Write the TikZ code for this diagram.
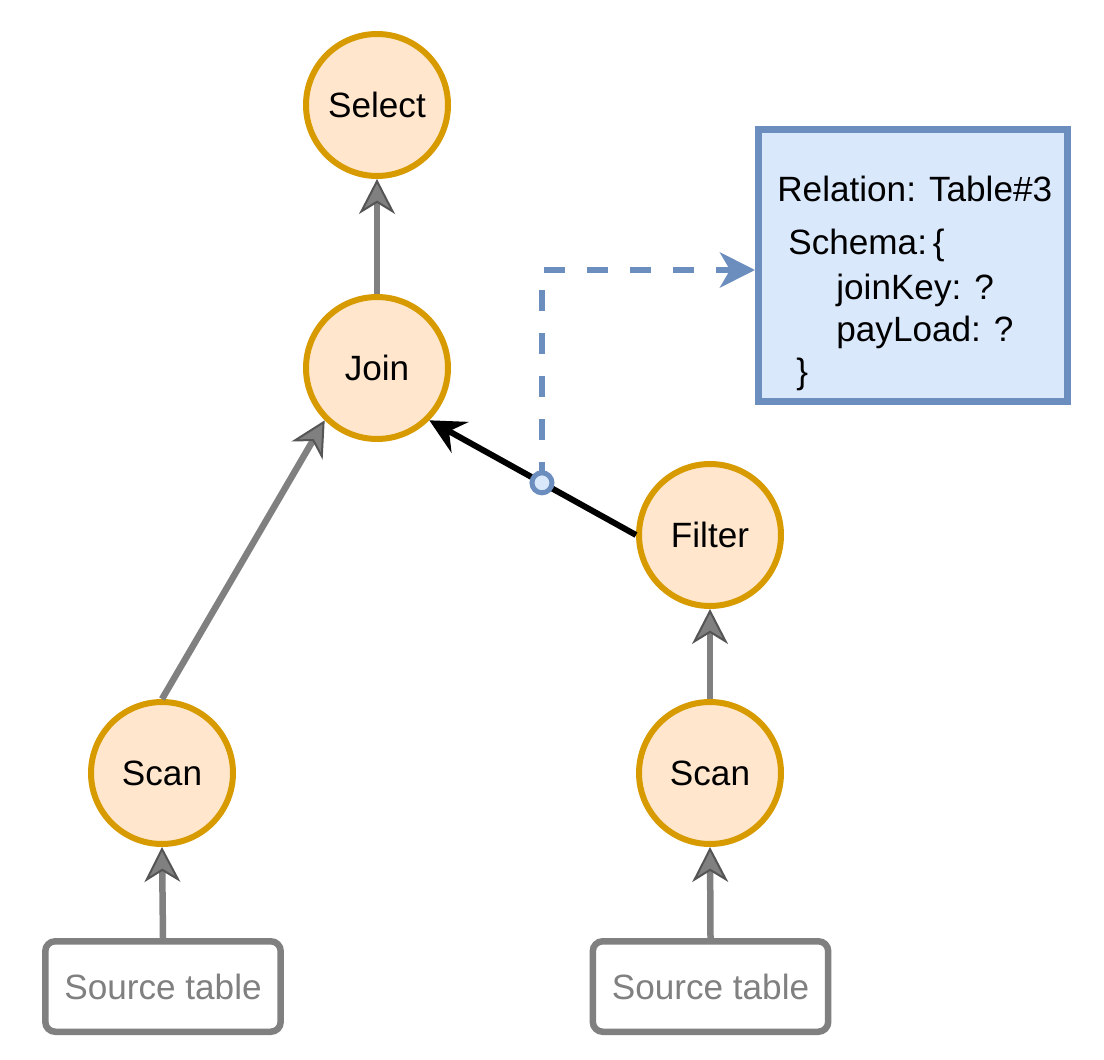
\documentclass[tikz,border=0pt]{standalone}
\usepackage{fontspec}
\setmainfont{Liberation Sans}
\usetikzlibrary{arrows.meta,calc}
\definecolor{orfill}{HTML}{FFE6CC}
\definecolor{ordraw}{HTML}{D79B00}
\definecolor{blfill}{HTML}{DAE8FC}
\definecolor{bldraw}{HTML}{6C8EBF}
\definecolor{grline}{HTML}{808080}
\definecolor{grdark}{HTML}{555555}
\begin{document}
\begin{tikzpicture}[x=0.02cm,y=-0.02cm,
  every node/.style={font=\fontsize{20}{24}\selectfont},
  opnode/.style={circle,fill=orfill,draw=ordraw,line width=0.12cm,minimum size=2.84cm,inner sep=0pt},
  srcbox/.style={rectangle,rounded corners=0.2cm,draw=grline,fill=white,line width=0.13cm,minimum width=4.71cm,minimum height=1.81cm,text=grline},
  relbox/.style={rectangle,fill=blfill,draw=bldraw,line width=0.13cm,minimum width=6.19cm,minimum height=5.45cm},
  reltext/.style={anchor=base west,inner sep=0pt},
  garrow/.style={draw=grline,line width=0.13cm,-{Stealth[length=0.7cm,width=0.72cm,inset=0.22cm,color=grdark,fill=grline,line width=0.04cm]}},
  karrow/.style={draw=black,line width=0.12cm,-{Stealth[length=0.7cm,width=0.7cm,inset=0.25cm]}},
  bdash/.style={draw=bldraw,line width=0.13cm,dash pattern=on 0.42cm off 0.44cm,-{Stealth[length=0.7cm,width=0.7cm,inset=0.2cm]}},
  dotnode/.style={circle,fill=blfill,draw=bldraw,line width=0.1cm,minimum size=0.4cm,inner sep=0pt}
]
\useasboundingbox[fill=white] (0,0) rectangle (1104,1060);

\node[opnode] (select) at (377,105) {Select};
\node[opnode] (join) at (377,368) {Join};
\node[opnode] (filter) at (710,535) {Filter};
\node[opnode] (scanL) at (162,773) {Scan};
\node[opnode] (scanR) at (710,773) {Scan};
\node[srcbox] (srcL) at (163,986.5) {Source table};
\node[srcbox] (srcR) at (710.5,986.5) {Source table};

\node[relbox] (box) at (913,265.5) {};
\node[reltext] (t1) at (777,202) {Relation: Table\#3};
\node[reltext] (t2) at (788,255) {Schema:\,\{};
\node[reltext] (t3) at (836,300) {joinKey: ?};
\node[reltext] (t4) at (836,342) {payLoad: ?};
\node[reltext] (t5) at (796,383) {\}};

\draw[garrow] (join.north) -- (select.south);
\draw[garrow] (scanL.north) -- (join.south west);
\draw[garrow] (scanR.north) -- (filter.south);
\draw[garrow] (srcL.north) -- (scanL.south);
\draw[garrow] (srcR.north) -- (scanR.south);
\draw[karrow] (filter.west) -- (join.south east);

\coordinate (dot) at ($(filter.west)!0.455!(join.south east)$);
\coordinate (boxin) at ($(box.west)+(0,4.5)$);
\draw[bdash] (dot) |- (boxin);
\node[dotnode] (dotc) at (dot) {};
\end{tikzpicture}
\end{document}
